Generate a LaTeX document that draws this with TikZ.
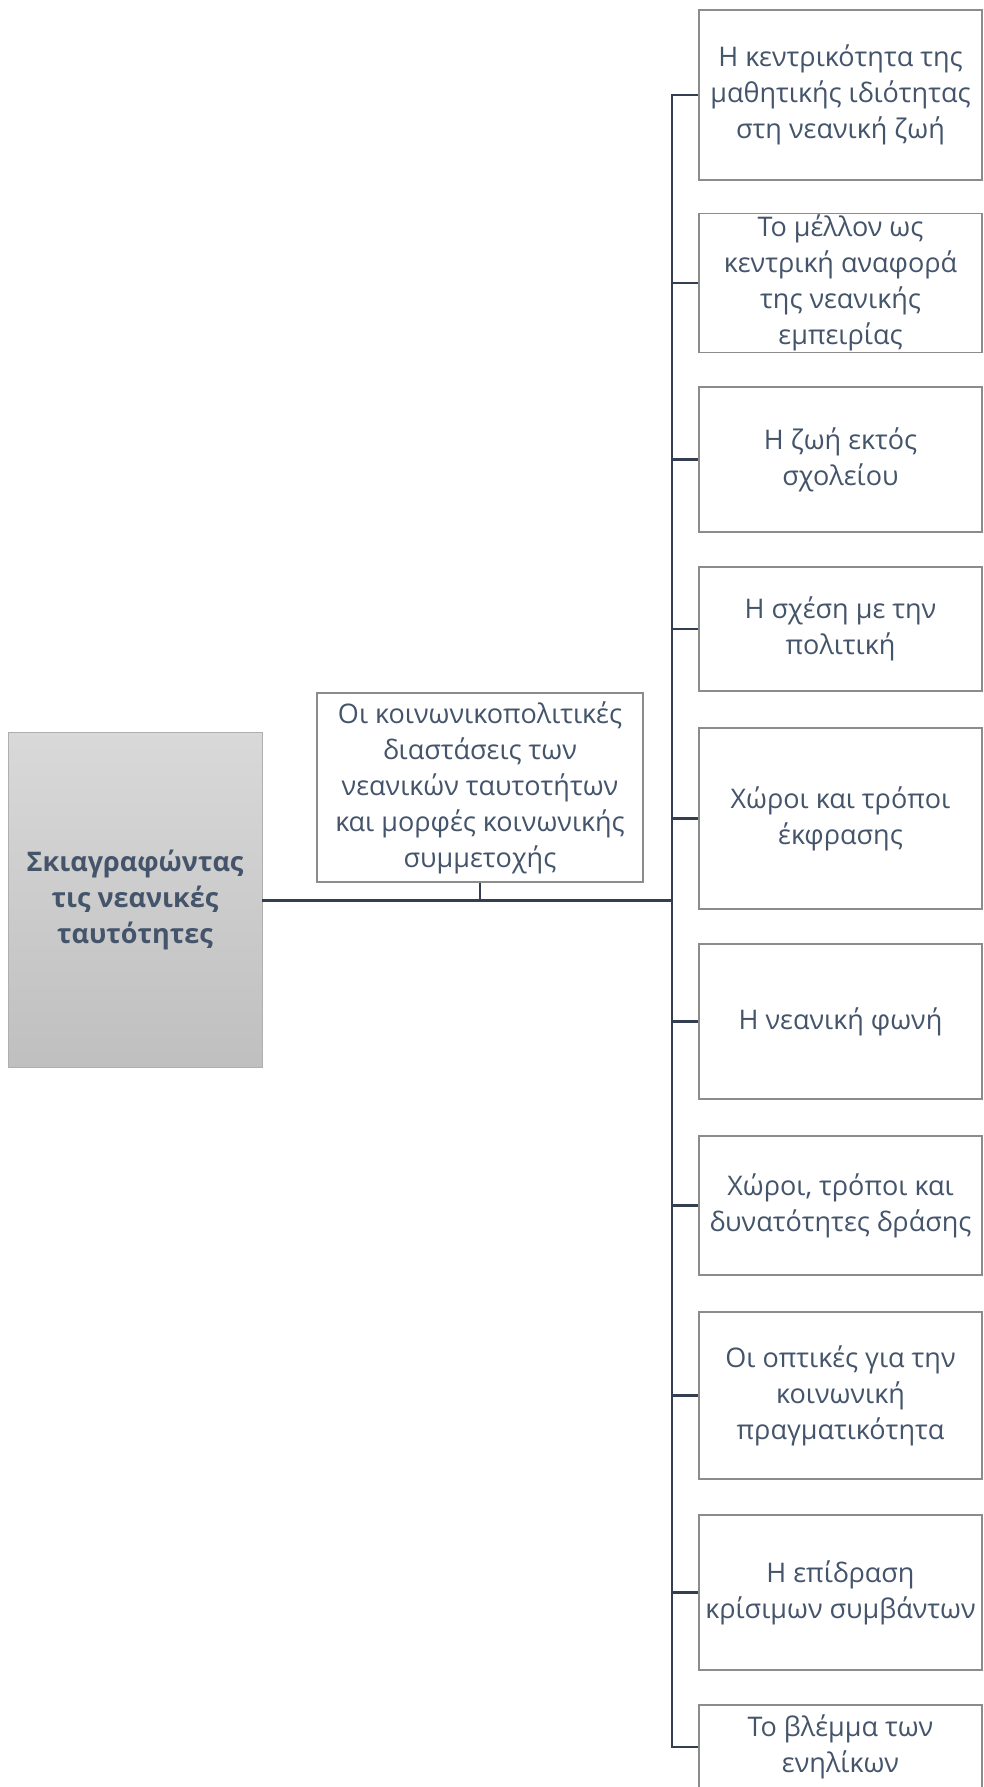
\documentclass[tikz,border=0pt]{standalone}
\usepackage{fontspec}
\setmainfont{Open Sans}
\usetikzlibrary{positioning}
\definecolor{textslate}{HTML}{44546A}
\definecolor{lineslate}{HTML}{333F50}
\definecolor{boxedge}{HTML}{8C8C8C}

\begin{document}
\begin{tikzpicture}[x=1pt, y=-1pt,
        every node/.style={font=\fontsize{27}{36}\selectfont, text=textslate, align=center},
        root/.style={rectangle, draw=boxedge!70, top color=gray!30, bottom color=gray!50, minimum width=254pt, minimum height=335pt, font=\fontsize{27}{36}\selectfont\bfseries},
        topic/.style={rectangle, draw=boxedge, line width=1.2pt, fill=white, inner sep=1pt},
        leaf/.style={topic, minimum width=283pt},
        trunk/.style={draw=lineslate, line width=3pt},
        branch/.style={draw=lineslate, line width=2.5pt}
    ]
        \useasboundingbox (0,0) rectangle (983,1787);

        \node[root] (root) at (135,900) {Σκιαγραφώντας\\τις νεανικές\\ταυτότητες};
        \node[topic, minimum width=326pt, minimum height=189pt] (dims) at (480,787.5) {Οι κοινωνικοπολιτικές\\διαστάσεις των\\νεανικών ταυτοτήτων\\και μορφές κοινωνικής\\συμμετοχής};
        \coordinate (bus) at (672,900);

        \node[leaf, minimum height=170pt] (school) at (840.5,95) {Η κεντρικότητα της\\μαθητικής ιδιότητας\\στη νεανική ζωή};
        \node[leaf, minimum height=136pt] (future) at (840.5,283) {Το μέλλον ως\\κεντρική αναφορά\\της νεανικής\\εμπειρίας};
        \node[leaf, minimum height=145pt] (outside) at (840.5,459.5) {Η ζωή εκτός\\σχολείου};
        \node[leaf, minimum height=124pt] (politics) at (840.5,629) {Η σχέση με την\\πολιτική};
        \node[leaf, minimum height=181pt] (expression) at (840.5,818.5) {Χώροι και τρόποι\\έκφρασης};
        \node[leaf, minimum height=155pt] (voice) at (840.5,1021.5) {Η νεανική φωνή};
        \node[leaf, minimum height=139pt] (action) at (840.5,1205.5) {Χώροι, τρόποι και\\δυνατότητες δράσης};
        \node[leaf, minimum height=167pt] (views) at (840.5,1395.5) {Οι οπτικές για την\\κοινωνική\\πραγματικότητα};
        \node[leaf, minimum height=155pt] (events) at (840.5,1592.5) {Η επίδραση\\κρίσιμων συμβάντων};
        \node[leaf, minimum height=84pt] (adults) at (840.5,1747) {Το βλέμμα των\\ενηλίκων};

        \draw[trunk] (root.east) -- (bus);
        \draw[branch] (dims.south) -- (dims.south |- bus);
        \draw[branch] (bus) |- (school.west);
        \draw[branch] (bus) |- (future.west);
        \draw[branch] (bus) |- (outside.west);
        \draw[branch] (bus) |- (politics.west);
        \draw[branch] (bus) |- (expression.west);
        \draw[branch] (bus) |- (voice.west);
        \draw[branch] (bus) |- (action.west);
        \draw[branch] (bus) |- (views.west);
        \draw[branch] (bus) |- (events.west);
        \draw[branch] (bus) |- (adults.west);
    \end{tikzpicture}
\end{document}
